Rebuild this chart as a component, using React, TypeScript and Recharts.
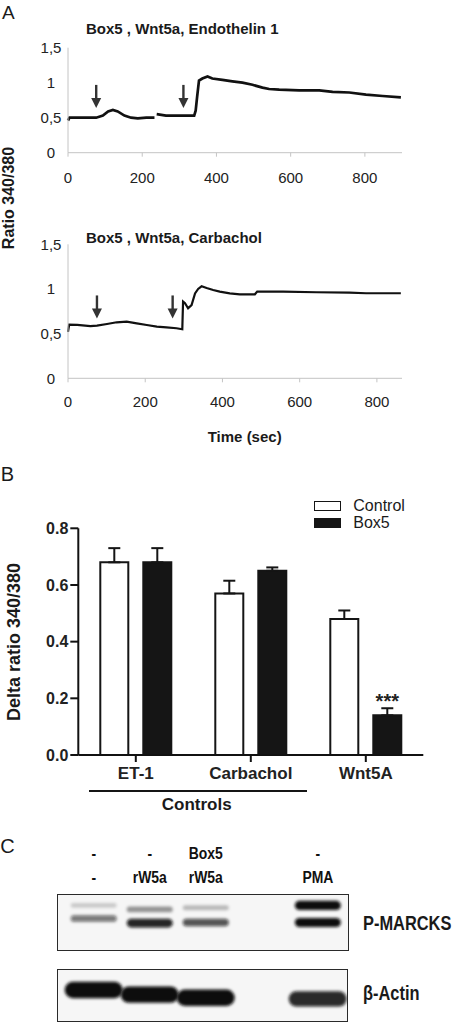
import {
  ComposedChart,
  Line,
  Scatter,
  ScatterChart,
  XAxis,
  YAxis,
  BarChart,
  Bar,
  ErrorBar,
  LabelList,
} from "recharts";

// ---- Panel A: Fura-2 ratio traces ----
const et1Time = [
  0, 4, 20, 40, 60, 76, 94, 108, 121, 134, 152, 170, 188, 211, 233, 236, 239,
  264, 290, 309, 340, 344, 348, 351, 353, 362, 376, 389, 416, 443, 470, 497,
  524, 542, 569, 623, 677, 713, 758, 803, 848, 897,
];
const et1Ratio = [
  0.46, 0.5, 0.5, 0.5, 0.5, 0.5, 0.53, 0.59, 0.61, 0.59, 0.53, 0.5, 0.49, 0.5,
  0.5, null, 0.55, 0.53, 0.53, 0.53, 0.53, 0.6, 0.8, 0.94, 1.03, 1.06, 1.09,
  1.06, 1.04, 1.02, 1.0, 0.97, 0.93, 0.91, 0.9, 0.89, 0.89, 0.87, 0.86, 0.83,
  0.81, 0.79,
];
const et1ArrowTime = [76, 311];
const et1ArrowRatio = [0.64, 0.64];

const carbTime = [
  0, 3, 24, 58, 75, 101, 126, 152, 178, 204, 230, 255, 281, 296, 298, 303, 311,
  320, 329, 337, 346, 359, 376, 393, 419, 445, 484, 490, 557, 643, 729, 772,
  815, 862,
];
const carbRatio = [
  0.52, 0.6, 0.597, 0.585, 0.59, 0.608, 0.627, 0.634, 0.615, 0.597, 0.578,
  0.571, 0.56, 0.549, 0.859, 0.84, 0.784, 0.82, 0.95, 1.0, 1.03, 1.01, 0.988,
  0.97, 0.95, 0.94, 0.94, 0.97, 0.97, 0.963, 0.96, 0.952, 0.952, 0.952,
];
const carbArrowTime = [75, 271];
const carbArrowRatio = [0.67, 0.67];

const timeTicks = [0, 200, 400, 600, 800];
const ratioTicks = [0, 0.5, 1, 1.5];

// ---- Panel B: delta ratio bars ----
const stimuli = ["ET-1", "Carbachol", "Wnt5A"];
const controlDelta = [0.68, 0.57, 0.48];
const controlSem = [0.05, 0.045, 0.03];
const box5Delta = [0.68, 0.65, 0.14];
const box5Sem = [0.05, 0.012, 0.025];
const box5Sig = ["", "", "***"];
const deltaTicks = [0, 0.2, 0.4, 0.6, 0.8];

// ---- Panel C: western blot ----
const laneIds = [1, 2, 3, 5];
const laneTopRow = ["-", "-", "Box5", "-"];
const laneBottomRow = ["-", "rW5a", "rW5a", "PMA"];
const marcksUpperPos = [0.8, 0.73, 0.76, 0.8];
const marcksUpperLevel = [0.18, 0.4, 0.25, 1];
const marcksLowerPos = [0.57, 0.49, 0.5, 0.5];
const marcksLowerLevel = [0.55, 0.9, 0.7, 1];
const actinPos = [0.6, 0.51, 0.45, 0.43];
const actinLevel = [1, 1, 1, 0.88];

const SANS = "'Liberation Sans', Arial, sans-serif";
const SQUEEZE = 0.82; // condensed look of the blot labels

const zip = (ts: number[], vs: (number | null)[]) =>
  ts.map((t, i) => ({ t, v: vs[i] }));

function Txt({ x, y, size, bold = false, anchor = "middle", rotate = 0, squeeze = 1, children }: any) {
  const tx = anchor === "middle" ? "-50%" : anchor === "end" ? "-100%" : "0";
  return (
    <div
      style={{
        position: "absolute",
        left: x,
        top: y,
        transform: `translate(${tx},-50%) rotate(${rotate}deg) scaleX(${squeeze})`,
        transformOrigin: anchor === "start" ? "left center" : "center",
        fontSize: size,
        fontWeight: bold ? 700 : 400,
        lineHeight: 1,
        whiteSpace: "nowrap",
        color: "#1a1a1a",
      }}
    >
      {children}
    </div>
  );
}

function RatioTick({ x, y, payload }: any) {
  return (
    <text x={x - 17} y={y} dy="0.36em" textAnchor="middle" fontSize={15} fill="#222">
      {String(payload.value).replace(".", ",")}
    </text>
  );
}

function ArrowMark({ cx, cy }: any) {
  return (
    <g>
      <line x1={cx} y1={cy - 23} x2={cx} y2={cy - 8} stroke="#333" strokeWidth={2.4} />
      <polygon points={`${cx - 5},${cy - 10} ${cx + 5},${cy - 10} ${cx},${cy}`} fill="#333" />
    </g>
  );
}

function TraceChart({ rows, arrows, xMax, top, height, marginTop, marginBottom, tickMargin, lineWidth }: any) {
  return (
    <div style={{ position: "absolute", left: 0, top }}>
      <ComposedChart
        width={420}
        height={height}
        data={rows}
        margin={{ top: marginTop, right: 18, left: 0, bottom: marginBottom }}
      >
        <XAxis
          type="number"
          dataKey="t"
          domain={[0, xMax]}
          ticks={timeTicks}
          height={30}
          stroke="#c4c4c4"
          tickSize={4}
          tickMargin={tickMargin}
          tick={{ fontSize: 15, fill: "#222" }}
        />
        <YAxis
          type="number"
          domain={[0, 1.5]}
          ticks={ratioTicks}
          width={68}
          stroke="#c4c4c4"
          tickLine={false}
          tickSize={0}
          tickMargin={0}
          tick={<RatioTick />}
        />
        <Line
          type="linear"
          dataKey="v"
          stroke="#111"
          strokeWidth={lineWidth}
          dot={false}
          connectNulls={false}
          isAnimationActive={false}
        />
        <Scatter data={arrows} dataKey="v" shape={<ArrowMark />} isAnimationActive={false} />
      </ComposedChart>
    </div>
  );
}

function DeltaLegend() {
  const items = [
    { name: "Control", fill: "#fff", y: 506 },
    { name: "Box5", fill: "#151515", y: 522.7 },
  ];
  return (
    <>
      {items.map((it) => (
        <div key={it.name}>
          <div
            style={{
              position: "absolute",
              left: 313.5,
              top: it.y - 5,
              width: 27,
              height: 10,
              boxSizing: "border-box",
              border: "1.5px solid #151515",
              background: it.fill,
            }}
          />
          <Txt x={353.3} y={it.y} size={16} anchor="start">
            {it.name}
          </Txt>
        </div>
      ))}
    </>
  );
}

function Band({ cx, cy, payload, w, base, k, tag }: any) {
  const h = (base + k * payload.level) * 2;
  const id = `blur-${tag}-${payload.lane}`;
  return (
    <g>
      <defs>
        <filter id={id} x="-30%" y="-150%" width="160%" height="400%">
          <feGaussianBlur stdDeviation="1.8" />
        </filter>
      </defs>
      <rect
        x={cx - w / 2}
        y={cy - h / 2}
        width={w}
        height={h}
        rx={h / 2}
        fill="#0d0d0d"
        fillOpacity={payload.level}
        filter={`url(#${id})`}
      />
    </g>
  );
}

function LaneTick({ x, y, payload }: any) {
  const i = laneIds.indexOf(payload.value);
  const common = { textAnchor: "middle", fontWeight: 700, fontSize: 17, fill: "#111" } as any;
  return (
    <g>
      <text transform={`translate(${x} ${y - 35}) scale(${SQUEEZE} 1)`} {...common}>
        {laneTopRow[i]}
      </text>
      <text transform={`translate(${x} ${y - 10.6}) scale(${SQUEEZE} 1)`} {...common}>
        {laneBottomRow[i]}
      </text>
    </g>
  );
}

const bandRows = (pos: number[], level: number[]) =>
  laneIds.map((lane, i) => ({ lane, pos: pos[i], level: level[i] }));

export default function App() {
  const et1Rows = zip(et1Time, et1Ratio);
  const et1Arrows = zip(et1ArrowTime, et1ArrowRatio);
  const carbRows = zip(carbTime, carbRatio);
  const carbArrows = zip(carbArrowTime, carbArrowRatio);

  const barRows = stimuli.map((name, i) => ({
    name,
    control: controlDelta[i],
    controlErr: [0, controlSem[i]],
    box5: box5Delta[i],
    box5Err: [0, box5Sem[i]],
    sig: box5Sig[i],
  }));

  const upperRows = bandRows(marcksUpperPos, marcksUpperLevel);
  const lowerRows = bandRows(marcksLowerPos, marcksLowerLevel);
  const actinRows = bandRows(actinPos, actinLevel);

  return (
    <div
      style={{
        position: "absolute",
        left: 0,
        top: 0,
        width: 453,
        height: 1026,
        background: "#fff",
        fontFamily: SANS,
        overflow: "hidden",
      }}
    >
      {/* Panel A */}
      <Txt x={8.3} y={11.7} size={19}>A</Txt>
      <Txt x={86} y={27.7} size={15} bold anchor="start">
        Box5 , Wnt5a, Endothelin 1
      </Txt>
      <TraceChart
        rows={et1Rows}
        arrows={et1Arrows}
        xMax={900}
        top={0}
        height={200}
        marginTop={47.7}
        marginBottom={17.3}
        tickMargin={16}
        lineWidth={2.7}
      />
      <Txt x={86} y={236.7} size={15} bold anchor="start">
        Box5 , Wnt5a, Carbachol
      </Txt>
      <TraceChart
        rows={carbRows}
        arrows={carbArrows}
        xMax={865}
        top={190}
        height={240}
        marginTop={54.3}
        marginBottom={21.7}
        tickMargin={13.7}
        lineWidth={2.2}
      />
      <Txt x={9} y={197.5} size={16} bold rotate={-90}>
        Ratio 340/380
      </Txt>
      <Txt x={244.7} y={435.7} size={15} bold>
        Time (sec)
      </Txt>

      {/* Panel B */}
      <Txt x={7.5} y={474} size={20}>B</Txt>
      <div style={{ position: "absolute", left: 0, top: 500 }}>
        <BarChart
          width={440}
          height={300}
          data={barRows}
          barSize={28}
          barGap={15}
          margin={{ top: 28.3, right: 16.7, left: 18.3, bottom: 15 }}
        >
          <XAxis
            dataKey="name"
            height={30}
            axisLine={{ stroke: "#111", strokeWidth: 2 }}
            tickLine={{ stroke: "#111", strokeWidth: 2 }}
            tickSize={7}
            tickMargin={5}
            tick={{ fontSize: 17, fontWeight: 700, fill: "#222" }}
          />
          <YAxis
            type="number"
            domain={[0, 0.8]}
            ticks={deltaTicks}
            width={60}
            axisLine={{ stroke: "#111", strokeWidth: 2 }}
            tickLine={{ stroke: "#111", strokeWidth: 2 }}
            tickSize={8}
            tickMargin={2}
            tickFormatter={(v: number) => v.toFixed(1)}
            tick={{ fontSize: 16, fontWeight: 700, fill: "#222" }}
          />
          <Bar dataKey="control" fill="#fff" stroke="#151515" strokeWidth={2} isAnimationActive={false}>
            <ErrorBar dataKey="controlErr" width={6} stroke="#151515" strokeWidth={2} direction="y" />
          </Bar>
          <Bar dataKey="box5" fill="#151515" stroke="#151515" strokeWidth={2} isAnimationActive={false}>
            <ErrorBar dataKey="box5Err" width={6} stroke="#151515" strokeWidth={2} direction="y" />
            <LabelList dataKey="sig" position="top" offset={7} fontSize={20} fontWeight={700} fill="#222" />
          </Bar>
        </BarChart>
      </div>
      <DeltaLegend />
      <Txt x={14} y={641.5} size={18} bold rotate={-90}>
        Delta ratio 340/380
      </Txt>
      <div
        style={{
          position: "absolute",
          left: 89.3,
          top: 790,
          width: 217.4,
          height: 0,
          borderTop: "2px solid #151515",
        }}
      />
      <Txt x={196.7} y={804.3} size={17} bold>
        Controls
      </Txt>

      {/* Panel C */}
      <Txt x={7.5} y={845.8} size={20}>C</Txt>
      <div
        style={{
          position: "absolute",
          left: 57.3,
          top: 894,
          width: 291.7,
          height: 57,
          background: "#f6f6f6",
        }}
      />
      <div style={{ position: "absolute", left: 57.3, top: 835 }}>
        <ScatterChart width={291.7} height={116} margin={{ top: 0, right: 0, bottom: 0, left: 0 }}>
          <XAxis
            type="number"
            dataKey="lane"
            domain={[0.345, 5.55]}
            ticks={laneIds}
            orientation="top"
            height={59}
            axisLine={false}
            tickLine={false}
            tickSize={0}
            tickMargin={0}
            tick={<LaneTick />}
          />
          <YAxis type="number" dataKey="pos" domain={[0, 1]} hide />
          <Scatter
            data={upperRows}
            shape={(p: any) => <Band {...p} tag="up" w={46} base={1.8} k={2.8} />}
            isAnimationActive={false}
          />
          <Scatter
            data={lowerRows}
            shape={(p: any) => <Band {...p} tag="low" w={46} base={1.8} k={2.8} />}
            isAnimationActive={false}
          />
        </ScatterChart>
      </div>
      <div
        style={{
          position: "absolute",
          left: 57.3,
          top: 894,
          width: 291.7,
          height: 57,
          boxSizing: "border-box",
          border: "1.5px solid #2a2a2a",
        }}
      />
      <div
        style={{
          position: "absolute",
          left: 57.3,
          top: 969.3,
          width: 290.4,
          height: 52.4,
          background: "#f6f6f6",
        }}
      />
      <div style={{ position: "absolute", left: 57.3, top: 969.3 }}>
        <ScatterChart width={290.4} height={52.4} margin={{ top: 0, right: 0, bottom: 0, left: 0 }}>
          <XAxis type="number" dataKey="lane" domain={[0.345, 5.53]} hide />
          <YAxis type="number" dataKey="pos" domain={[0, 1]} hide />
          <Scatter
            data={actinRows}
            shape={(p: any) => <Band {...p} tag="actin" w={58} base={4} k={4.2} />}
            isAnimationActive={false}
          />
        </ScatterChart>
      </div>
      <div
        style={{
          position: "absolute",
          left: 57.3,
          top: 969.3,
          width: 290.4,
          height: 52.4,
          boxSizing: "border-box",
          border: "1.5px solid #2a2a2a",
        }}
      />
      <Txt x={362.7} y={922.7} size={20} bold anchor="start" squeeze={SQUEEZE}>
        P-MARCKS
      </Txt>
      <Txt x={362.7} y={993.3} size={20} bold anchor="start" squeeze={SQUEEZE}>
        β-Actin
      </Txt>
    </div>
  );
}
